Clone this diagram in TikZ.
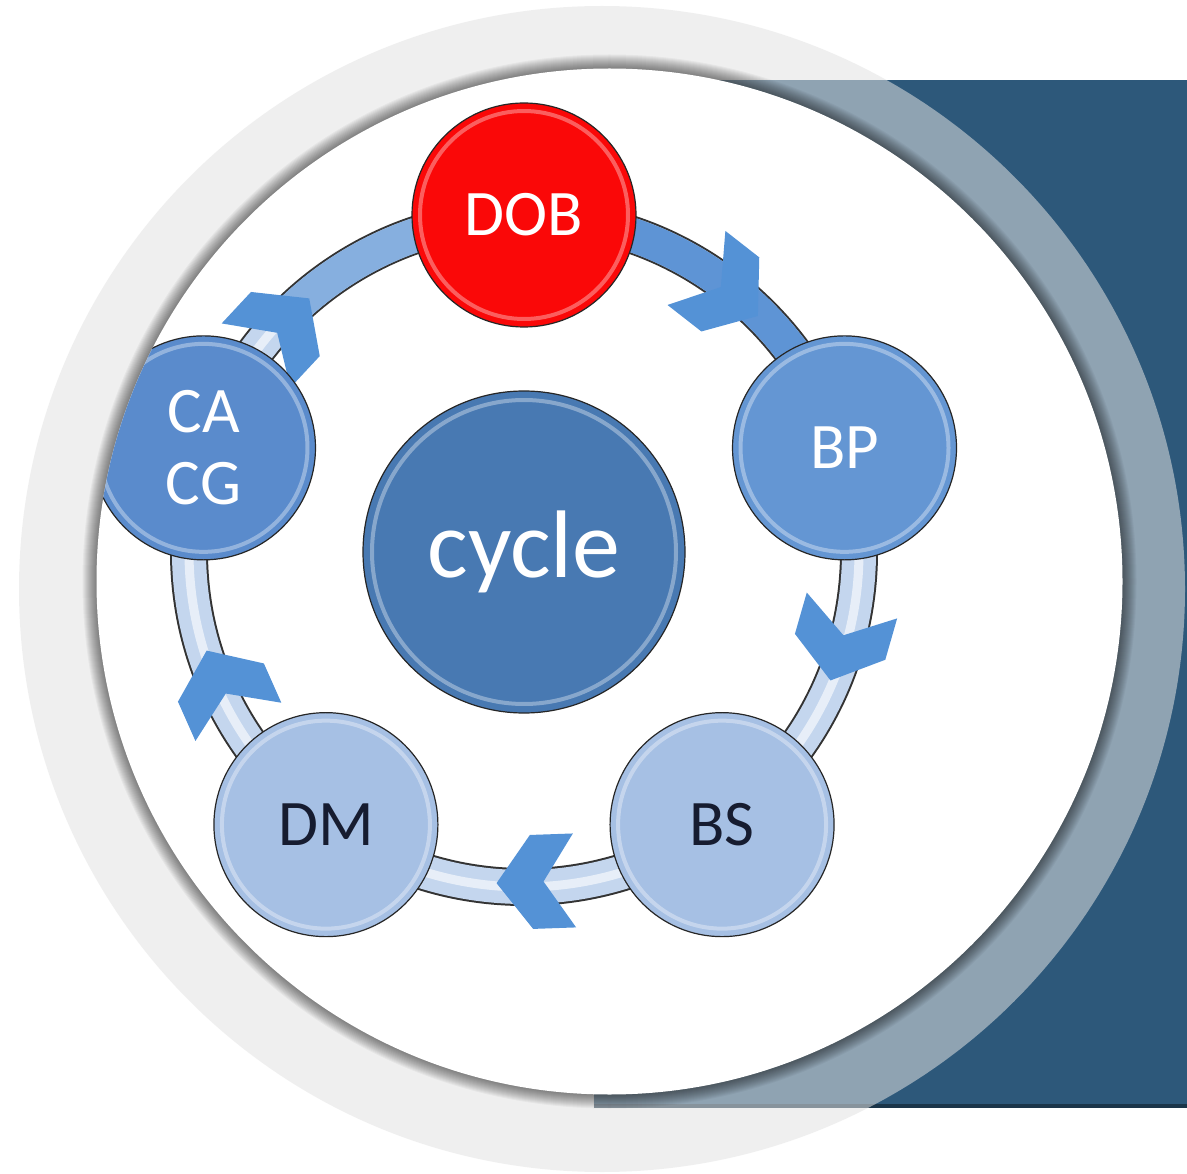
\documentclass[tikz,border=0pt]{standalone}
\usepackage{fontspec}
\setmainfont{Carlito}
\usepackage{tikz}
\usetikzlibrary{calc}
\definecolor{deepblue}{RGB}{45,88,122}
\definecolor{ringgray}{RGB}{227,227,227}
\definecolor{cycblue}{RGB}{72,121,178}
\definecolor{bpblue}{RGB}{100,150,211}
\definecolor{cablue}{RGB}{90,139,204}
\definecolor{paleblue}{RGB}{166,192,228}
\definecolor{inkblue}{RGB}{22,28,48}
\definecolor{bandpale}{RGB}{196,214,238}
\definecolor{bandblue}{RGB}{94,148,213}
\definecolor{chevblue}{RGB}{84,146,214}
\definecolor{dobred}{RGB}{250,8,8}

\begin{document}
\begin{tikzpicture}[x=1pt,y=1pt,
    stage/.style={circle,draw=black!85,line width=1.2pt,minimum size=224pt,inner sep=0pt,align=center,
      font=\fontsize{65}{72}\selectfont,
      path picture={\draw[white,opacity=0.35,line width=4pt] (path picture bounding box.center) circle[radius=104pt];}},
    chev/.style={fill=chevblue}]
      \useasboundingbox (0,0) rectangle (1187,-1174);
      \fill[white] (0,0) rectangle (1187,-1174);
      \fill[deepblue] (594,-80) rectangle (1187,-1107);
      \fill[deepblue!60!black] (594,-1104) rectangle (1187,-1108);
      \fill[ringgray,fill opacity=0.54] (602,-589) circle[radius=583pt];
      \foreach \k in {1,...,14}
        \fill[black,opacity=0.04] (609.5,-581.5) circle[radius=513pt+\k pt];
      \fill[white] (609.5,-581.5) circle[radius=513pt];
      \begin{scope}
        \clip (609.5,-581.5) circle[radius=513pt];
        \node[circle,draw=black!85,line width=1.2pt,minimum size=322pt,inner sep=0pt,fill=cycblue,text=white,
          font=\fontsize{96}{100}\selectfont,
          path picture={\draw[white,opacity=0.35,line width=4pt] (path picture bounding box.center) circle[radius=152pt];}]
          (cyc) at (524,-552) {cycle};
        \draw[line width=38pt,black!80] (cyc.center) circle[radius=335pt];
        \draw[line width=34pt,bandpale] (cyc.center) circle[radius=335pt];
        \draw[line width=9pt,white,opacity=0.6] (cyc.center) circle[radius=335pt];
        \draw[line width=34pt,bandblue] ($(cyc)+(90:335pt)$) arc[start angle=90,end angle=18,radius=335pt];
        \draw[line width=34pt,bandblue!75!white] ($(cyc)+(136:335pt)$) arc[start angle=136,end angle=90,radius=335pt];
        \foreach \a in {52,-16,-88,204,137}
          \fill[chev,shift={($(cyc)+(\a:330pt)$)},rotate=\a-90]
            (39,0) -- (4,47) -- (-39,47) -- (-8,0) -- (-39,-47) -- (4,-47) -- cycle;
        \node[stage,fill=dobred,text=white] (dob) at ($(cyc)+(90:337pt)$) {DOB};
        \node[stage,fill=bpblue,text=white] (bp) at ($(cyc)+(18:337pt)$) {BP};
        \node[stage,fill=paleblue,text=inkblue] (bs) at ($(cyc)+(-54:337pt)$) {BS};
        \node[stage,fill=paleblue,text=inkblue] (dm) at ($(cyc)+(-126:337pt)$) {DM};
        \node[stage,fill=cablue,text=white] (ca) at ($(cyc)+(162:337pt)$) {CA\\CG};
      \end{scope}
    \end{tikzpicture}
\end{document}
